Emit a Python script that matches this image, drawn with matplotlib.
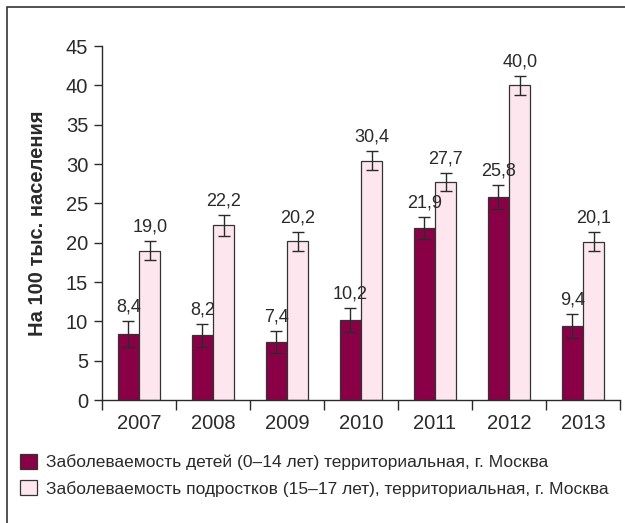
import matplotlib
matplotlib.use('Agg')
import matplotlib.pyplot as plt
import numpy as np
from matplotlib.patches import Rectangle

plt.rcParams['font.family'] = ['Liberation Sans', 'DejaVu Sans']

# -----------------------------
# Data
# -----------------------------
years = ['2007', '2008', '2009', '2010', '2011', '2012', '2013']
children = [8.4, 8.2, 7.4, 10.2, 21.9, 25.8, 9.4]
children_err = [1.6, 1.5, 1.4, 1.5, 1.4, 1.5, 1.5]
teens = [19.0, 22.2, 20.2, 30.4, 27.7, 40.0, 20.1]
teens_err = [1.25, 1.3, 1.2, 1.2, 1.1, 1.2, 1.2]
legend_labels = ['Заболеваемость детей (0–14 лет) территориальная, г. Москва',
                 'Заболеваемость подростков (15–17 лет), территориальная, г. Москва']
ylabel = 'На 100 тыс. населения'

dark = '#8a0047'
light = '#fde6ee'
ink = '#2a2a2a'

# -----------------------------
# Figure
# -----------------------------
fig = plt.figure(figsize=(6.25, 5.23), dpi=100)
fig.patches.append(Rectangle((7/625, -0.1), 1.2, (516/523) + 0.1, transform=fig.transFigure,
                             fill=False, edgecolor='#333333', lw=1.2))
ax = fig.add_axes([102/625, 1 - 400/523, 518/625, 354/523])

x = np.arange(len(years))
w = 0.29
ax.bar(x - w/2, children, w, color=dark, edgecolor='#333333', lw=0.9,
       yerr=children_err, error_kw=dict(ecolor=ink, lw=1, capsize=4, capthick=1),
       label=legend_labels[0])
ax.bar(x + w/2, teens, w, color=light, edgecolor='#333333', lw=0.9,
       yerr=teens_err, error_kw=dict(ecolor=ink, lw=1, capsize=4, capthick=1),
       label=legend_labels[1])

for xi, v, e in zip(x - w/2, children, children_err):
    ax.annotate(f'{v:.1f}'.replace('.', ','), (xi, v + e), xytext=(0, 4),
                textcoords='offset points', ha='center', va='bottom', fontsize=13, color=ink)
for xi, v, e in zip(x + w/2, teens, teens_err):
    ax.annotate(f'{v:.1f}'.replace('.', ','), (xi, v + e), xytext=(0, 4),
                textcoords='offset points', ha='center', va='bottom', fontsize=13, color=ink)

ax.set_xlim(-0.5, len(years) - 0.5)
ax.set_ylim(0, 45)
ax.set_yticks(range(0, 46, 5))
ax.set_xticks(x)
ax.set_xticklabels(years)
ax.set_xticks(np.arange(-0.5, len(years)), minor=True)
ax.tick_params(axis='x', which='major', length=0, pad=10, labelsize=14.5, labelcolor=ink)
ax.tick_params(axis='x', which='minor', length=7, width=1, color=ink, direction='out')
ax.tick_params(axis='y', length=6, width=1, color=ink, pad=4, labelsize=14.5, labelcolor=ink)

for s in ['top', 'right']:
    ax.spines[s].set_visible(False)
for s in ['left', 'bottom']:
    ax.spines[s].set_color(ink)
    ax.spines[s].set_linewidth(1)

ax.set_ylabel(ylabel, fontsize=14.5, fontweight='bold', color=ink)
ax.yaxis.set_label_coords(-55/518, 0.5)

handles, labels = ax.get_legend_handles_labels()
fig.legend(handles, labels, loc='upper left', bbox_to_anchor=(4/625, 1 - 438/523),
           frameon=False, fontsize=12.5, handlelength=1.0, handleheight=1.0,
           handletextpad=0.5, labelspacing=0.55, labelcolor=ink)

fig.savefig('out.png', dpi=100)
